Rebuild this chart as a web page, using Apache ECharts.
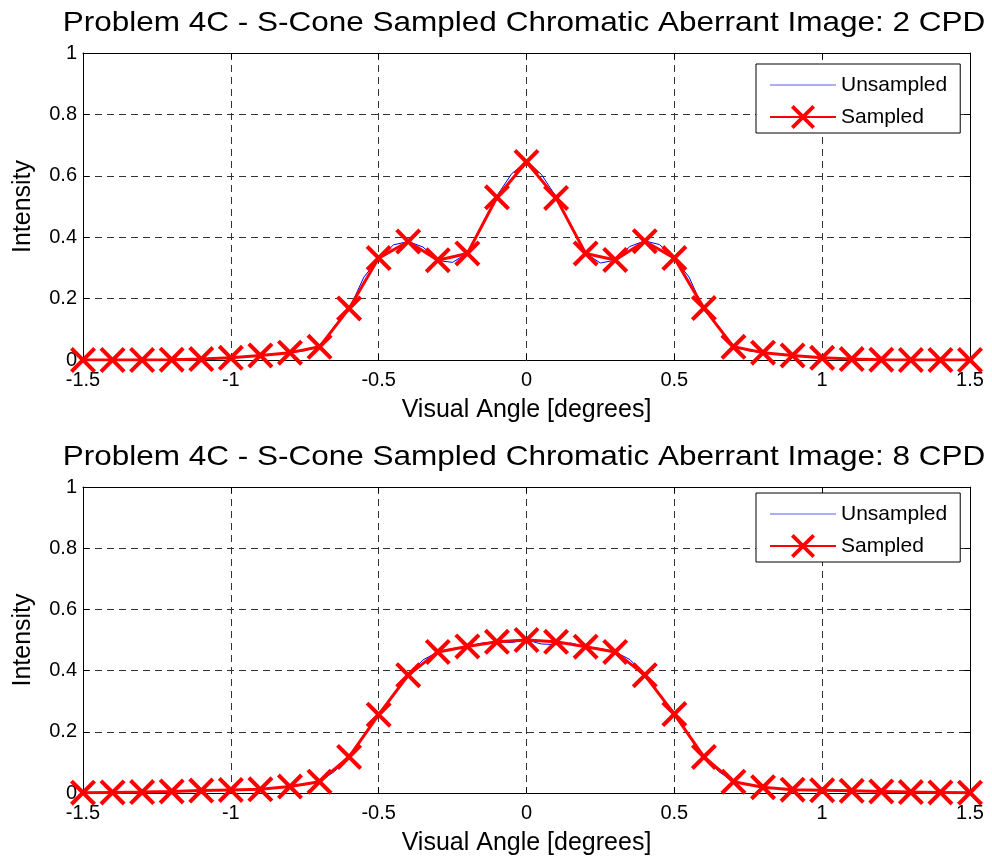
<!DOCTYPE html>
<html>
<head>
<meta charset="utf-8">
<script src="https://cdn.jsdelivr.net/npm/echarts@6/dist/echarts.min.js"></script>
<style>
  html, body { margin: 0; padding: 0; background: #fff; }
  #chart { width: 992px; height: 858px; }
</style>
</head>
<body>
<div id="chart"></div>
<script>
// Sample positions (degrees of visual angle) of the S-cone mosaic
const sampledAngles = [-1.5, -1.4, -1.3, -1.2, -1.1, -1.0, -0.9, -0.8, -0.7, -0.6, -0.5, -0.4, -0.3, -0.2, -0.1, 0,
  0.1, 0.2, 0.3, 0.4, 0.5, 0.6, 0.7, 0.8, 0.9, 1.0, 1.1, 1.2, 1.3, 1.4, 1.5];

// Finer grid for the continuous (unsampled) image
const fineAngles = [-1.5, -1.45, -1.4, -1.35, -1.3, -1.25, -1.2, -1.15, -1.1, -1.05, -1.0, -0.95, -0.9, -0.85, -0.8,
  -0.75, -0.7, -0.65, -0.6, -0.55, -0.5, -0.45, -0.4, -0.35, -0.3, -0.25, -0.2, -0.15, -0.1, -0.05, 0,
  0.05, 0.1, 0.15, 0.2, 0.25, 0.3, 0.35, 0.4, 0.45, 0.5, 0.55, 0.6, 0.65, 0.7, 0.75, 0.8, 0.85, 0.9,
  0.95, 1.0, 1.05, 1.1, 1.15, 1.2, 1.25, 1.3, 1.35, 1.4, 1.45, 1.5];

// 2 CPD grating
const sampled2cpd = [0, 0, 0, 0.001, 0.003, 0.007, 0.015, 0.024, 0.043, 0.168, 0.332, 0.386, 0.325, 0.347, 0.53, 0.645,
  0.528, 0.347, 0.326, 0.387, 0.332, 0.169, 0.043, 0.024, 0.015, 0.007, 0.003, 0.001, 0, 0, 0];

const unsampled2cpd = [0, 0, 0, 0, 0, 0.001, 0.001, 0.002, 0.003, 0.005, 0.007, 0.011, 0.015, 0.019, 0.024,
  0.03, 0.045, 0.11, 0.165, 0.27, 0.33, 0.375, 0.386, 0.368, 0.324, 0.318, 0.348, 0.44, 0.535, 0.607, 0.645,
  0.605, 0.532, 0.438, 0.347, 0.316, 0.325, 0.37, 0.388, 0.376, 0.33, 0.27, 0.163, 0.11, 0.045, 0.03, 0.024, 0.019, 0.015,
  0.011, 0.007, 0.005, 0.003, 0.002, 0.001, 0.001, 0, 0, 0, 0, 0];

// 8 CPD grating
const sampled8cpd = [0.001, 0.002, 0.003, 0.005, 0.008, 0.01, 0.012, 0.021, 0.037, 0.118, 0.256, 0.385, 0.461, 0.479, 0.494, 0.5,
  0.494, 0.478, 0.461, 0.385, 0.258, 0.118, 0.037, 0.019, 0.011, 0.009, 0.007, 0.005, 0.003, 0.002, 0.001];

const unsampled8cpd = [0.001, 0.001, 0.002, 0.002, 0.003, 0.004, 0.005, 0.006, 0.008, 0.009, 0.01, 0.011, 0.012, 0.016, 0.021,
  0.027, 0.038, 0.07, 0.12, 0.185, 0.256, 0.325, 0.385, 0.435, 0.461, 0.472, 0.48, 0.49, 0.494, 0.492, 0.5,
  0.487, 0.485, 0.49, 0.478, 0.472, 0.461, 0.436, 0.385, 0.325, 0.258, 0.185, 0.12, 0.07, 0.038, 0.027, 0.019, 0.015, 0.011,
  0.01, 0.009, 0.008, 0.007, 0.006, 0.005, 0.004, 0.003, 0.002, 0.002, 0.001, 0.001];

const titles = [
  'Problem 4C - S-Cone Sampled Chromatic Aberrant Image: 2 CPD',
  'Problem 4C - S-Cone Sampled Chromatic Aberrant Image: 8 CPD'
];
const xName = 'Visual Angle [degrees]';
const yName = 'Intensity';
const seriesNames = ['Unsampled', 'Sampled'];

const FONT = '"Liberation Sans", Arial, Helvetica, sans-serif';
// "x" marker drawn as a filled cross outline
const crossSymbol = 'path://M0,11L11,0L50,39L89,0L100,11L61,50L100,89L89,100L50,61L11,100L0,89L39,50Z';

const zip = (xs, ys) => xs.map((x, i) => [x, ys[i]]);

const grids = [
  { left: 83, top: 53, width: 887, height: 307 },
  { left: 83, top: 487, width: 887, height: 306 }
];

const xAxes = [];
const yAxes = [];
grids.forEach((g, gi) => {
  // bottom axis with labels and grid
  xAxes.push({
    gridIndex: gi, type: 'value', min: -1.5, max: 1.5, interval: 0.5, position: 'bottom',
    name: xName, nameLocation: 'middle', nameGap: 38,
    nameTextStyle: { fontFamily: FONT, fontSize: 25, color: '#000' },
    axisLine: { show: true, onZero: false, lineStyle: { color: '#000', width: 1 } },
    axisTick: { show: true, inside: true, length: 6, lineStyle: { color: '#000' } },
    axisLabel: { fontFamily: FONT, fontSize: 20, color: '#000', margin: 10 },
    splitLine: { show: true, lineStyle: { color: '#333', type: [7, 5], width: 1 } }
  });
  // top edge of the box
  xAxes.push({
    gridIndex: gi, type: 'value', min: -1.5, max: 1.5, interval: 0.5, position: 'top',
    axisLine: { show: true, onZero: false, lineStyle: { color: '#000', width: 1 } },
    axisTick: { show: true, inside: true, length: 6, lineStyle: { color: '#000' } },
    axisLabel: { show: false }, splitLine: { show: false }
  });
  yAxes.push({
    gridIndex: gi, type: 'value', min: 0, max: 1, interval: 0.2, position: 'left',
    name: yName, nameLocation: 'middle', nameGap: 47, nameRotate: 90,
    nameTextStyle: { fontFamily: FONT, fontSize: 25, color: '#000' },
    axisLine: { show: true, onZero: false, lineStyle: { color: '#000', width: 1 } },
    axisTick: { show: true, inside: true, length: 6, lineStyle: { color: '#000' } },
    axisLabel: { fontFamily: FONT, fontSize: 20, color: '#000', margin: 6 },
    splitLine: { show: true, lineStyle: { color: '#333', type: [7, 5], width: 1 } }
  });
  yAxes.push({
    gridIndex: gi, type: 'value', min: 0, max: 1, interval: 0.2, position: 'right',
    axisLine: { show: true, onZero: false, lineStyle: { color: '#000', width: 1 } },
    axisTick: { show: true, inside: true, length: 6, lineStyle: { color: '#000' } },
    axisLabel: { show: false }, splitLine: { show: false }
  });
});

const panels = [
  { unsampled: unsampled2cpd, sampled: sampled2cpd },
  { unsampled: unsampled8cpd, sampled: sampled8cpd }
];

const series = [];
panels.forEach((p, gi) => {
  series.push({
    name: seriesNames[0], type: 'line', xAxisIndex: gi * 2, yAxisIndex: gi * 2,
    data: zip(fineAngles, p.unsampled),
    symbol: 'none', showSymbol: false, animation: false, z: 2,
    lineStyle: { color: '#0000ff', width: 1 }, itemStyle: { color: '#0000ff' }
  });
  series.push({
    name: seriesNames[1], type: 'line', xAxisIndex: gi * 2, yAxisIndex: gi * 2,
    data: zip(sampledAngles, p.sampled),
    symbol: crossSymbol, symbolSize: 26, showAllSymbol: true, animation: false, z: 3,
    lineStyle: { color: '#ff0000', width: 3 }, itemStyle: { color: '#ff0000' },
    emphasis: { disabled: true }
  });
});

const legendBase = {
  data: [
    { name: seriesNames[0], itemStyle: { color: 'rgba(0,0,0,0)', opacity: 0 }, lineStyle: { color: '#5a5aff', width: 1 } },
    { name: seriesNames[1] }
  ],
  orient: 'vertical', left: 756,
  padding: [9, 13, 4, 13], itemWidth: 66, itemHeight: 30, itemGap: 8,
  backgroundColor: '#fff', borderColor: '#000', borderWidth: 1, borderRadius: 0,
  textStyle: { fontFamily: FONT, fontSize: 21, color: '#000' },
  selectedMode: false
};

const option = {
  backgroundColor: '#fff',
  animation: false,
  grid: grids,
  xAxis: xAxes,
  yAxis: yAxes,
  legend: [
    Object.assign({}, legendBase, { top: 64 }),
    Object.assign({}, legendBase, { top: 493 })
  ],
  graphic: titles.map((t, i) => ({
    type: 'text', x: 524, y: i === 0 ? 23 : 457, scaleX: 1.125,
    style: {
      text: t, font: '28px ' + FONT, fill: '#000',
      align: 'center', verticalAlign: 'middle',
      textAlign: 'center', textVerticalAlign: 'middle'
    }
  })),
  series: series
};

const chart = echarts.init(document.getElementById('chart'), null, { renderer: 'canvas' });
chart.setOption(option);
</script>
</body>
</html>
